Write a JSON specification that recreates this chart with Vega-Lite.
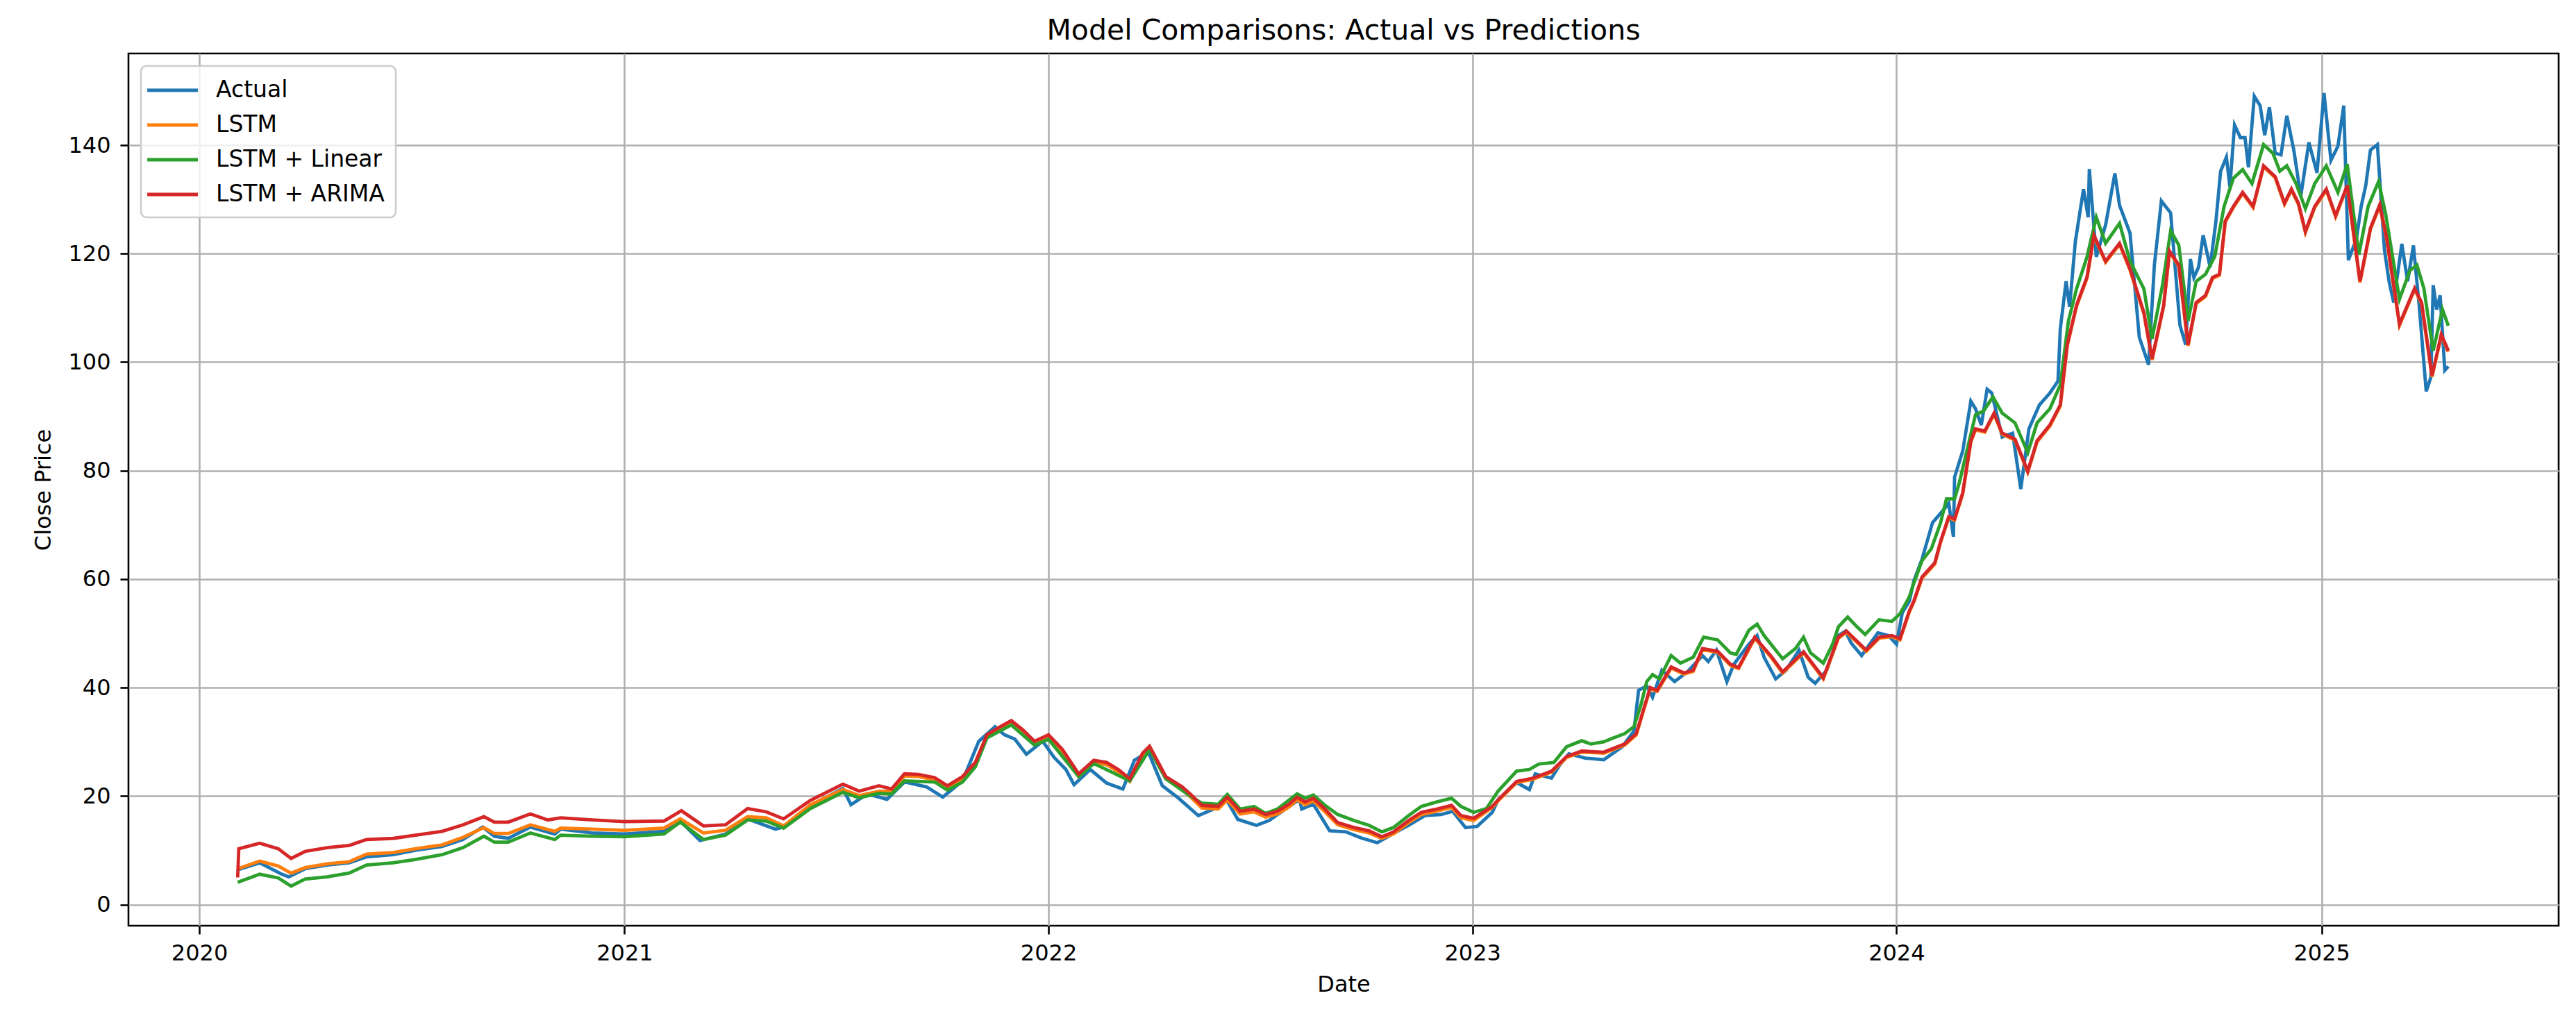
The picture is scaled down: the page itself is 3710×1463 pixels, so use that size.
{
  "$schema": "https://vega.github.io/schema/vega-lite/v6.json",
  "width": 3500,
  "height": 1256,
  "autosize": "none",
  "padding": {"left": 185, "top": 77, "right": 25, "bottom": 130},
  "background": "white",
  "title": {"text": "Model Comparisons: Actual vs Predictions", "fontSize": 41, "fontWeight": "normal", "font": "DejaVu Sans", "color": "black", "offset": 11, "anchor": "middle"},
  "config": {
    "font": "DejaVu Sans",
    "view": {"stroke": "black", "strokeWidth": 2.6},
    "axis": {
      "domain": false,
      "labelFont": "DejaVu Sans", "labelFontSize": 32, "labelColor": "black",
      "titleFont": "DejaVu Sans", "titleFontSize": 32, "titleFontWeight": "normal", "titleColor": "black",
      "tickColor": "black", "tickWidth": 2.6, "tickSize": 12,
      "gridColor": "#b0b0b0", "gridWidth": 2.6, "gridOpacity": 1,
      "labelPadding": 12
    },
    "legend": {
      "orient": "top-left", "offset": 18, "padding": 16,
      "fillColor": "rgba(255,255,255,0.8)", "strokeColor": "#cccccc", "strokeWidth": 2.6, "cornerRadius": 8,
      "symbolType": "M-1.57,0H2.85", "symbolSize": 1089, "symbolStrokeWidth": 4.8,
      "labelFont": "DejaVu Sans", "labelFontSize": 33, "labelColor": "black", "labelOffset": 54, "labelLimit": 2000,
      "rowPadding": 14, "titleFontSize": 0
    }
  },
  "datasets": {
    "actual": [
      {"date":"2020-02-03","close":6.4},{"date":"2020-02-22","close":7.7},{"date":"2020-03-12","close":5.6},{"date":"2020-03-18","close":5.1},
      {"date":"2020-04-01","close":6.6},{"date":"2020-04-20","close":7.3},{"date":"2020-05-09","close":7.7},{"date":"2020-05-24","close":8.8},
      {"date":"2020-06-16","close":9.2},{"date":"2020-07-05","close":10.0},{"date":"2020-07-28","close":10.7},{"date":"2020-08-15","close":12.0},
      {"date":"2020-09-01","close":14.3},{"date":"2020-09-11","close":12.6},{"date":"2020-09-23","close":12.2},{"date":"2020-10-12","close":14.3},
      {"date":"2020-11-02","close":13.0},{"date":"2020-11-07","close":13.9},{"date":"2020-12-04","close":13.2},{"date":"2021-01-01","close":13.0},
      {"date":"2021-02-04","close":13.5},{"date":"2021-02-18","close":15.4},{"date":"2021-03-07","close":11.8},{"date":"2021-03-29","close":13.0},
      {"date":"2021-04-17","close":15.8},{"date":"2021-05-11","close":13.9},{"date":"2021-05-18","close":14.3},{"date":"2021-06-10","close":18.2},
      {"date":"2021-07-08","close":21.4},{"date":"2021-07-15","close":18.4},{"date":"2021-07-29","close":20.4},{"date":"2021-08-15","close":19.4},
      {"date":"2021-08-30","close":22.6},{"date":"2021-09-18","close":21.7},{"date":"2021-10-02","close":19.8},{"date":"2021-10-19","close":22.8},
      {"date":"2021-11-02","close":30.1},{"date":"2021-11-16","close":32.8},{"date":"2021-11-24","close":31.3},{"date":"2021-12-03","close":30.5},
      {"date":"2021-12-13","close":27.7},{"date":"2021-12-27","close":30.1},{"date":"2022-01-06","close":27.1},{"date":"2022-01-16","close":24.9},
      {"date":"2022-01-23","close":22.1},{"date":"2022-02-06","close":24.9},{"date":"2022-02-20","close":22.4},{"date":"2022-03-06","close":21.3},
      {"date":"2022-03-16","close":26.6},{"date":"2022-03-28","close":28.1},{"date":"2022-04-09","close":21.9},{"date":"2022-04-23","close":19.6},
      {"date":"2022-05-10","close":16.4},{"date":"2022-05-23","close":17.6},{"date":"2022-06-03","close":19.4},{"date":"2022-06-13","close":15.7},
      {"date":"2022-06-29","close":14.6},{"date":"2022-07-10","close":15.5},{"date":"2022-07-24","close":17.6},{"date":"2022-08-05","close":19.4},
      {"date":"2022-08-07","close":17.6},{"date":"2022-08-17","close":18.5},{"date":"2022-08-31","close":13.6},{"date":"2022-09-14","close":13.4},
      {"date":"2022-09-27","close":12.3},{"date":"2022-10-11","close":11.4},{"date":"2022-10-25","close":13.1},{"date":"2022-11-07","close":14.6},
      {"date":"2022-11-21","close":16.4},{"date":"2022-12-05","close":16.6},{"date":"2022-12-15","close":17.2},{"date":"2022-12-26","close":14.2},
      {"date":"2023-01-05","close":14.4},{"date":"2023-01-18","close":17.0},{"date":"2023-01-23","close":19.3},{"date":"2023-02-08","close":22.5},
      {"date":"2023-02-19","close":21.2},{"date":"2023-02-24","close":24.1},{"date":"2023-03-10","close":23.3},{"date":"2023-03-17","close":25.7},
      {"date":"2023-03-25","close":27.8},{"date":"2023-04-08","close":27.0},{"date":"2023-04-24","close":26.7},{"date":"2023-05-10","close":29.1},
      {"date":"2023-05-20","close":32.0},{"date":"2023-05-24","close":39.5},{"date":"2023-05-31","close":40.3},{"date":"2023-06-05","close":38.2},
      {"date":"2023-06-13","close":43.2},{"date":"2023-06-24","close":41.1},{"date":"2023-07-05","close":42.9},{"date":"2023-07-18","close":45.9},
      {"date":"2023-07-23","close":44.8},{"date":"2023-07-30","close":46.9},{"date":"2023-08-08","close":41.1},{"date":"2023-08-14","close":44.3},
      {"date":"2023-08-27","close":48.0},{"date":"2023-09-03","close":49.6},{"date":"2023-09-09","close":45.6},{"date":"2023-09-19","close":41.6},
      {"date":"2023-09-28","close":43.2},{"date":"2023-10-09","close":46.9},{"date":"2023-10-17","close":41.9},{"date":"2023-10-23","close":40.8},
      {"date":"2023-11-02","close":43.2},{"date":"2023-11-12","close":49.6},{"date":"2023-11-18","close":50.4},{"date":"2023-11-23","close":48.2},
      {"date":"2023-12-02","close":45.9},{"date":"2023-12-16","close":50.1},{"date":"2023-12-25","close":49.6},{"date":"2024-01-01","close":48.0},
      {"date":"2024-01-06","close":53.8},{"date":"2024-01-12","close":55.9},{"date":"2024-01-16","close":59.7},{"date":"2024-01-23","close":63.7},
      {"date":"2024-02-01","close":70.4},{"date":"2024-02-11","close":72.9},{"date":"2024-02-15","close":74.0},{"date":"2024-02-19","close":67.8},
      {"date":"2024-02-20","close":78.8},{"date":"2024-02-27","close":83.6},{"date":"2024-03-05","close":92.8},{"date":"2024-03-09","close":91.4},
      {"date":"2024-03-14","close":88.4},{"date":"2024-03-19","close":95.0},{"date":"2024-03-23","close":94.3},{"date":"2024-04-01","close":86.2},
      {"date":"2024-04-10","close":86.9},{"date":"2024-04-17","close":76.6},{"date":"2024-04-24","close":87.7},{"date":"2024-05-03","close":92.1},
      {"date":"2024-05-12","close":94.3},{"date":"2024-05-19","close":96.5},{"date":"2024-05-21","close":106.1},{"date":"2024-05-26","close":114.9},
      {"date":"2024-05-29","close":110.2},{"date":"2024-06-03","close":122.3},{"date":"2024-06-10","close":131.9},{"date":"2024-06-14","close":126.7},
      {"date":"2024-06-15","close":135.6},{"date":"2024-06-21","close":119.4},{"date":"2024-06-29","close":125.3},{"date":"2024-07-07","close":134.8},
      {"date":"2024-07-11","close":128.9},{"date":"2024-07-20","close":123.8},{"date":"2024-07-28","close":104.6},{"date":"2024-08-05","close":99.5},
      {"date":"2024-08-10","close":117.9},{"date":"2024-08-16","close":129.7},{"date":"2024-08-24","close":127.5},{"date":"2024-09-01","close":106.8},
      {"date":"2024-09-06","close":103.2},{"date":"2024-09-10","close":119.0},{"date":"2024-09-13","close":115.6},{"date":"2024-09-17","close":117.5},
      {"date":"2024-09-21","close":123.4},{"date":"2024-09-27","close":117.5},{"date":"2024-10-02","close":126.0},{"date":"2024-10-06","close":135.2},
      {"date":"2024-10-11","close":137.8},{"date":"2024-10-14","close":132.3},{"date":"2024-10-18","close":143.7},{"date":"2024-10-23","close":141.4},
      {"date":"2024-10-27","close":141.4},{"date":"2024-10-30","close":135.9},{"date":"2024-11-04","close":149.0},{"date":"2024-11-09","close":147.3},
      {"date":"2024-11-13","close":141.8},{"date":"2024-11-17","close":147.0},{"date":"2024-11-22","close":138.5},{"date":"2024-11-27","close":138.2},
      {"date":"2024-12-02","close":145.4},{"date":"2024-12-08","close":139.1},{"date":"2024-12-14","close":130.6},{"date":"2024-12-21","close":140.5},
      {"date":"2024-12-28","close":134.9},{"date":"2025-01-03","close":149.6},{"date":"2025-01-09","close":137.2},{"date":"2025-01-15","close":139.8},
      {"date":"2025-01-20","close":147.3},{"date":"2025-01-24","close":118.8},{"date":"2025-01-31","close":122.8},{"date":"2025-02-04","close":128.7},
      {"date":"2025-02-08","close":132.6},{"date":"2025-02-12","close":139.1},{"date":"2025-02-18","close":140.1},{"date":"2025-02-24","close":120.8},
      {"date":"2025-02-28","close":114.9},{"date":"2025-03-04","close":111.0},{"date":"2025-03-11","close":121.8},{"date":"2025-03-16","close":114.9},
      {"date":"2025-03-21","close":121.5},{"date":"2025-03-26","close":110.3},{"date":"2025-04-01","close":94.6},{"date":"2025-04-05","close":97.2},
      {"date":"2025-04-07","close":114.2},{"date":"2025-04-10","close":109.7},{"date":"2025-04-13","close":112.3},{"date":"2025-04-17","close":98.5},
      {"date":"2025-04-20","close":99.2}
    ],
    "lstm": [
      {"date":"2020-02-03","close":6.6},{"date":"2020-02-22","close":8.0},{"date":"2020-03-09","close":7.1},{"date":"2020-03-20","close":5.8},
      {"date":"2020-04-01","close":6.8},{"date":"2020-04-20","close":7.5},{"date":"2020-05-09","close":7.9},{"date":"2020-05-24","close":9.3},
      {"date":"2020-06-16","close":9.6},{"date":"2020-07-05","close":10.3},{"date":"2020-07-28","close":11.0},{"date":"2020-08-15","close":12.4},
      {"date":"2020-09-02","close":14.2},{"date":"2020-09-11","close":13.1},{"date":"2020-09-23","close":13.1},{"date":"2020-10-12","close":14.7},
      {"date":"2020-11-02","close":13.5},{"date":"2020-11-07","close":14.1},{"date":"2020-12-04","close":13.9},{"date":"2021-01-01","close":13.7},
      {"date":"2021-02-04","close":14.1},{"date":"2021-02-18","close":15.8},{"date":"2021-03-10","close":13.2},{"date":"2021-03-29","close":13.7},
      {"date":"2021-04-17","close":16.2},{"date":"2021-05-03","close":16.0},{"date":"2021-05-18","close":14.5},{"date":"2021-06-10","close":18.4},
      {"date":"2021-07-08","close":21.2},{"date":"2021-07-22","close":20.1},{"date":"2021-08-08","close":20.9},{"date":"2021-08-19","close":20.9},
      {"date":"2021-08-30","close":23.7},{"date":"2021-09-11","close":23.6},{"date":"2021-09-25","close":23.0},{"date":"2021-10-06","close":21.5},
      {"date":"2021-10-19","close":23.2},{"date":"2021-10-30","close":25.8},{"date":"2021-11-09","close":30.9},{"date":"2021-11-19","close":32.2},
      {"date":"2021-11-30","close":33.5},{"date":"2021-12-10","close":31.8},{"date":"2021-12-20","close":29.7},{"date":"2022-01-01","close":30.9},
      {"date":"2022-01-13","close":28.2},{"date":"2022-01-27","close":23.6},{"date":"2022-02-09","close":26.2},{"date":"2022-02-20","close":25.8},
      {"date":"2022-03-02","close":24.5},{"date":"2022-03-12","close":22.7},{"date":"2022-03-23","close":27.5},{"date":"2022-03-29","close":28.8},
      {"date":"2022-04-12","close":23.2},{"date":"2022-04-26","close":21.2},{"date":"2022-05-03","close":19.9},{"date":"2022-05-13","close":17.8},
      {"date":"2022-05-27","close":17.6},{"date":"2022-06-04","close":19.3},{"date":"2022-06-15","close":16.7},{"date":"2022-06-27","close":17.1},
      {"date":"2022-07-07","close":16.1},{"date":"2022-07-17","close":16.7},{"date":"2022-07-27","close":18.0},{"date":"2022-08-03","close":19.3},
      {"date":"2022-08-10","close":18.4},{"date":"2022-08-17","close":19.1},{"date":"2022-08-27","close":17.1},{"date":"2022-09-07","close":14.7},
      {"date":"2022-09-21","close":13.8},{"date":"2022-10-04","close":13.2},{"date":"2022-10-15","close":12.2},{"date":"2022-10-25","close":13.0},
      {"date":"2022-11-07","close":15.1},{"date":"2022-11-18","close":16.6},{"date":"2022-12-01","close":17.2},{"date":"2022-12-14","close":17.9},
      {"date":"2022-12-22","close":16.0},{"date":"2023-01-02","close":15.5},{"date":"2023-01-18","close":17.9},{"date":"2023-01-23","close":19.1},
      {"date":"2023-02-08","close":22.5},{"date":"2023-02-22","close":23.1},{"date":"2023-03-10","close":24.4},{"date":"2023-03-23","close":27.1},
      {"date":"2023-04-05","close":28.1},{"date":"2023-04-24","close":27.9},{"date":"2023-05-12","close":29.4},{"date":"2023-05-22","close":31.3},
      {"date":"2023-05-28","close":35.6},{"date":"2023-06-03","close":39.8},{"date":"2023-06-09","close":39.3},{"date":"2023-06-21","close":43.6},
      {"date":"2023-07-02","close":42.5},{"date":"2023-07-10","close":43.0},{"date":"2023-07-18","close":47.0},{"date":"2023-07-31","close":46.5},
      {"date":"2023-08-11","close":44.1},{"date":"2023-08-18","close":43.5},{"date":"2023-09-01","close":49.1},{"date":"2023-09-15","close":45.6},
      {"date":"2023-09-25","close":42.7},{"date":"2023-10-13","close":46.4},{"date":"2023-10-30","close":41.6},{"date":"2023-11-12","close":49.1},
      {"date":"2023-11-19","close":50.2},{"date":"2023-12-06","close":46.7},{"date":"2023-12-17","close":49.1},{"date":"2023-12-28","close":49.4},
      {"date":"2024-01-04","close":48.8},{"date":"2024-01-12","close":53.9},{"date":"2024-01-16","close":55.8},{"date":"2024-01-23","close":60.2},
      {"date":"2024-02-03","close":62.8},{"date":"2024-02-08","close":66.8},{"date":"2024-02-15","close":71.3},{"date":"2024-02-20","close":70.9},
      {"date":"2024-02-27","close":75.7},{"date":"2024-03-05","close":85.3},{"date":"2024-03-09","close":87.5},{"date":"2024-03-17","close":87.1},
      {"date":"2024-03-25","close":90.4},{"date":"2024-04-01","close":86.7},{"date":"2024-04-12","close":85.6},{"date":"2024-04-23","close":79.7},
      {"date":"2024-05-01","close":85.3},{"date":"2024-05-12","close":88.2},{"date":"2024-05-21","close":91.9},{"date":"2024-05-27","close":103.0},
      {"date":"2024-06-04","close":110.3},{"date":"2024-06-13","close":115.5},{"date":"2024-06-19","close":123.2},{"date":"2024-06-29","close":118.4},
      {"date":"2024-07-11","close":121.7},{"date":"2024-07-20","close":117.0},{"date":"2024-08-01","close":108.9},{"date":"2024-08-08","close":100.4},
      {"date":"2024-08-18","close":110.3},{"date":"2024-08-23","close":120.3},{"date":"2024-08-31","close":117.7},{"date":"2024-09-08","close":103.0},
      {"date":"2024-09-15","close":110.8},{"date":"2024-09-23","close":112.1},{"date":"2024-09-29","close":115.4},{"date":"2024-10-05","close":116.0},
      {"date":"2024-10-10","close":125.8},{"date":"2024-10-17","close":128.5},{"date":"2024-10-25","close":131.1},{"date":"2024-11-03","close":128.5},
      {"date":"2024-11-12","close":136.0},{"date":"2024-11-22","close":134.0},{"date":"2024-11-30","close":129.1},{"date":"2024-12-06","close":131.7},
      {"date":"2024-12-12","close":129.1},{"date":"2024-12-18","close":123.9},{"date":"2024-12-26","close":128.5},{"date":"2025-01-05","close":131.7},
      {"date":"2025-01-13","close":126.8},{"date":"2025-01-23","close":132.4},{"date":"2025-02-03","close":114.7},{"date":"2025-02-12","close":124.5},
      {"date":"2025-02-20","close":128.8},{"date":"2025-02-26","close":122.6},{"date":"2025-03-09","close":106.8},{"date":"2025-03-22","close":113.4},
      {"date":"2025-03-28","close":110.8},{"date":"2025-04-06","close":97.3},{"date":"2025-04-14","close":104.9},{"date":"2025-04-20","close":101.9}
    ],
    "lstm_linear": [
      {"date":"2020-02-03","close":4.1},{"date":"2020-02-22","close":5.6},{"date":"2020-03-09","close":4.9},{"date":"2020-03-20","close":3.4},
      {"date":"2020-04-01","close":4.7},{"date":"2020-04-20","close":5.1},{"date":"2020-05-09","close":5.8},{"date":"2020-05-24","close":7.3},
      {"date":"2020-06-16","close":7.7},{"date":"2020-07-05","close":8.3},{"date":"2020-07-28","close":9.2},{"date":"2020-08-15","close":10.5},
      {"date":"2020-09-02","close":12.6},{"date":"2020-09-11","close":11.5},{"date":"2020-09-23","close":11.5},{"date":"2020-10-12","close":13.2},
      {"date":"2020-11-02","close":12.0},{"date":"2020-11-07","close":12.8},{"date":"2020-12-04","close":12.6},{"date":"2021-01-01","close":12.5},
      {"date":"2021-02-04","close":13.0},{"date":"2021-02-18","close":15.2},{"date":"2021-03-10","close":12.0},{"date":"2021-03-29","close":12.8},
      {"date":"2021-04-17","close":15.6},{"date":"2021-05-03","close":15.4},{"date":"2021-05-18","close":14.1},{"date":"2021-06-10","close":17.7},
      {"date":"2021-07-08","close":20.7},{"date":"2021-07-22","close":19.7},{"date":"2021-08-08","close":20.5},{"date":"2021-08-19","close":20.4},
      {"date":"2021-08-30","close":22.8},{"date":"2021-09-25","close":22.6},{"date":"2021-10-06","close":21.1},{"date":"2021-10-19","close":22.6},
      {"date":"2021-10-30","close":25.4},{"date":"2021-11-09","close":30.7},{"date":"2021-11-30","close":33.1},{"date":"2021-12-20","close":29.4},
      {"date":"2022-01-01","close":30.5},{"date":"2022-01-27","close":23.6},{"date":"2022-02-09","close":26.0},{"date":"2022-03-12","close":22.8},
      {"date":"2022-03-29","close":28.6},{"date":"2022-04-12","close":23.2},{"date":"2022-05-03","close":20.0},{"date":"2022-05-13","close":18.7},
      {"date":"2022-05-27","close":18.5},{"date":"2022-06-04","close":20.3},{"date":"2022-06-15","close":17.6},{"date":"2022-06-27","close":18.1},
      {"date":"2022-07-07","close":16.8},{"date":"2022-07-17","close":17.6},{"date":"2022-08-03","close":20.4},{"date":"2022-08-10","close":19.6},
      {"date":"2022-08-17","close":20.2},{"date":"2022-08-27","close":18.3},{"date":"2022-09-07","close":16.6},{"date":"2022-09-21","close":15.5},
      {"date":"2022-10-04","close":14.6},{"date":"2022-10-15","close":13.4},{"date":"2022-10-25","close":14.2},{"date":"2022-11-07","close":16.4},
      {"date":"2022-11-18","close":18.1},{"date":"2022-12-01","close":18.9},{"date":"2022-12-14","close":19.6},{"date":"2022-12-22","close":18.1},
      {"date":"2023-01-02","close":17.0},{"date":"2023-01-13","close":17.7},{"date":"2023-01-23","close":20.9},{"date":"2023-02-08","close":24.6},
      {"date":"2023-02-19","close":24.9},{"date":"2023-02-27","close":25.9},{"date":"2023-03-12","close":26.2},{"date":"2023-03-23","close":29.1},
      {"date":"2023-04-05","close":30.2},{"date":"2023-04-13","close":29.6},{"date":"2023-04-24","close":30.0},{"date":"2023-05-02","close":30.7},
      {"date":"2023-05-12","close":31.5},{"date":"2023-05-20","close":32.8},{"date":"2023-05-26","close":36.8},{"date":"2023-05-31","close":41.1},
      {"date":"2023-06-05","close":42.4},{"date":"2023-06-11","close":41.6},{"date":"2023-06-21","close":45.9},{"date":"2023-06-29","close":44.5},
      {"date":"2023-07-10","close":45.6},{"date":"2023-07-19","close":49.3},{"date":"2023-07-31","close":48.8},{"date":"2023-08-11","close":46.4},
      {"date":"2023-08-16","close":46.1},{"date":"2023-08-27","close":50.6},{"date":"2023-09-03","close":51.7},{"date":"2023-09-09","close":49.6},
      {"date":"2023-09-25","close":45.3},{"date":"2023-10-06","close":47.2},{"date":"2023-10-13","close":49.3},{"date":"2023-10-19","close":46.4},
      {"date":"2023-10-30","close":44.5},{"date":"2023-11-07","close":48.0},{"date":"2023-11-12","close":51.2},{"date":"2023-11-20","close":53.0},
      {"date":"2023-11-28","close":51.2},{"date":"2023-12-05","close":49.8},{"date":"2023-12-17","close":52.5},{"date":"2023-12-28","close":52.2},
      {"date":"2024-01-04","close":53.6},{"date":"2024-01-12","close":56.7},{"date":"2024-01-16","close":59.3},{"date":"2024-01-23","close":63.4},
      {"date":"2024-01-31","close":65.6},{"date":"2024-02-08","close":70.4},{"date":"2024-02-13","close":74.8},{"date":"2024-02-20","close":74.8},
      {"date":"2024-02-24","close":77.7},{"date":"2024-03-02","close":84.0},{"date":"2024-03-09","close":90.3},{"date":"2024-03-16","close":91.0},
      {"date":"2024-03-24","close":93.6},{"date":"2024-04-01","close":90.6},{"date":"2024-04-12","close":88.8},{"date":"2024-04-23","close":83.3},
      {"date":"2024-05-01","close":88.8},{"date":"2024-05-12","close":91.4},{"date":"2024-05-21","close":95.8},{"date":"2024-05-28","close":107.6},
      {"date":"2024-06-04","close":113.5},{"date":"2024-06-13","close":119.4},{"date":"2024-06-21","close":126.7},{"date":"2024-06-29","close":121.9},
      {"date":"2024-07-11","close":125.6},{"date":"2024-07-20","close":118.6},{"date":"2024-08-01","close":113.5},{"date":"2024-08-08","close":104.3},
      {"date":"2024-08-17","close":114.2},{"date":"2024-08-24","close":124.2},{"date":"2024-08-31","close":121.6},{"date":"2024-09-08","close":107.6},
      {"date":"2024-09-15","close":114.9},{"date":"2024-09-23","close":116.2},{"date":"2024-10-01","close":119.5},{"date":"2024-10-09","close":128.7},
      {"date":"2024-10-17","close":133.9},{"date":"2024-10-25","close":135.5},{"date":"2024-11-02","close":132.9},{"date":"2024-11-12","close":140.1},
      {"date":"2024-11-20","close":138.5},{"date":"2024-11-26","close":135.2},{"date":"2024-12-02","close":136.2},{"date":"2024-12-10","close":132.9},
      {"date":"2024-12-18","close":128.3},{"date":"2024-12-26","close":132.9},{"date":"2025-01-05","close":136.2},{"date":"2025-01-15","close":131.3},
      {"date":"2025-01-23","close":136.5},{"date":"2025-02-02","close":119.8},{"date":"2025-02-10","close":128.7},{"date":"2025-02-19","close":133.3},
      {"date":"2025-02-25","close":127.4},{"date":"2025-03-09","close":111.6},{"date":"2025-03-18","close":116.9},{"date":"2025-03-24","close":117.9},
      {"date":"2025-03-30","close":113.6},{"date":"2025-04-07","close":102.1},{"date":"2025-04-15","close":109.7},{"date":"2025-04-20","close":106.7}
    ],
    "lstm_arima": [
      {"date":"2020-02-03","close":5.0},{"date":"2020-02-04","close":10.3},{"date":"2020-02-22","close":11.3},{"date":"2020-03-09","close":10.3},
      {"date":"2020-03-20","close":8.5},{"date":"2020-04-01","close":9.8},{"date":"2020-04-20","close":10.5},{"date":"2020-05-09","close":10.9},
      {"date":"2020-05-24","close":12.0},{"date":"2020-06-16","close":12.2},{"date":"2020-07-05","close":12.8},{"date":"2020-07-28","close":13.5},
      {"date":"2020-08-15","close":14.7},{"date":"2020-09-02","close":16.2},{"date":"2020-09-11","close":15.2},{"date":"2020-09-23","close":15.2},
      {"date":"2020-10-12","close":16.7},{"date":"2020-10-27","close":15.6},{"date":"2020-11-07","close":16.0},{"date":"2020-12-04","close":15.6},
      {"date":"2021-01-01","close":15.3},{"date":"2021-02-04","close":15.4},{"date":"2021-02-19","close":17.3},{"date":"2021-03-10","close":14.5},
      {"date":"2021-03-29","close":14.7},{"date":"2021-04-17","close":17.7},{"date":"2021-05-03","close":17.1},{"date":"2021-05-18","close":15.8},
      {"date":"2021-06-10","close":19.2},{"date":"2021-07-08","close":22.2},{"date":"2021-07-22","close":20.9},{"date":"2021-08-08","close":21.9},
      {"date":"2021-08-19","close":21.3},{"date":"2021-08-30","close":24.1},{"date":"2021-09-11","close":24.0},{"date":"2021-09-25","close":23.4},
      {"date":"2021-10-06","close":21.9},{"date":"2021-10-19","close":23.6},{"date":"2021-10-30","close":26.2},{"date":"2021-11-09","close":31.3},
      {"date":"2021-11-19","close":32.6},{"date":"2021-11-30","close":33.9},{"date":"2021-12-10","close":32.2},{"date":"2021-12-20","close":30.1},
      {"date":"2022-01-01","close":31.3},{"date":"2022-01-13","close":28.6},{"date":"2022-01-27","close":24.1},{"date":"2022-02-09","close":26.6},
      {"date":"2022-02-20","close":26.2},{"date":"2022-03-02","close":24.9},{"date":"2022-03-12","close":23.2},{"date":"2022-03-23","close":27.9},
      {"date":"2022-03-29","close":29.2},{"date":"2022-04-12","close":23.6},{"date":"2022-04-26","close":21.7},{"date":"2022-05-03","close":20.4},
      {"date":"2022-05-13","close":18.3},{"date":"2022-05-27","close":18.1},{"date":"2022-06-04","close":19.8},{"date":"2022-06-15","close":17.2},
      {"date":"2022-06-27","close":17.6},{"date":"2022-07-07","close":16.6},{"date":"2022-07-17","close":17.2},{"date":"2022-07-27","close":18.5},
      {"date":"2022-08-03","close":19.8},{"date":"2022-08-10","close":18.9},{"date":"2022-08-17","close":19.6},{"date":"2022-08-27","close":17.6},
      {"date":"2022-09-07","close":15.1},{"date":"2022-09-21","close":14.2},{"date":"2022-10-04","close":13.6},{"date":"2022-10-15","close":12.5},
      {"date":"2022-10-25","close":13.4},{"date":"2022-11-07","close":15.5},{"date":"2022-11-18","close":17.0},{"date":"2022-12-01","close":17.6},
      {"date":"2022-12-14","close":18.3},{"date":"2022-12-22","close":16.4},{"date":"2023-01-02","close":15.9},{"date":"2023-01-18","close":18.1},
      {"date":"2023-01-23","close":19.3},{"date":"2023-02-08","close":22.7},{"date":"2023-02-22","close":23.3},{"date":"2023-03-10","close":24.6},
      {"date":"2023-03-23","close":27.3},{"date":"2023-04-05","close":28.3},{"date":"2023-04-24","close":28.1},{"date":"2023-05-12","close":29.6},
      {"date":"2023-05-22","close":31.5},{"date":"2023-05-28","close":35.8},{"date":"2023-06-03","close":40.0},{"date":"2023-06-09","close":39.5},
      {"date":"2023-06-21","close":43.8},{"date":"2023-07-02","close":42.7},{"date":"2023-07-10","close":43.2},{"date":"2023-07-18","close":47.2},
      {"date":"2023-07-31","close":46.7},{"date":"2023-08-11","close":44.3},{"date":"2023-08-18","close":43.7},{"date":"2023-09-01","close":49.3},
      {"date":"2023-09-15","close":45.8},{"date":"2023-09-25","close":42.9},{"date":"2023-10-13","close":46.6},{"date":"2023-10-30","close":41.8},
      {"date":"2023-11-12","close":49.3},{"date":"2023-11-19","close":50.4},{"date":"2023-12-06","close":46.9},{"date":"2023-12-17","close":49.3},
      {"date":"2023-12-28","close":49.6},{"date":"2024-01-04","close":49.0},{"date":"2024-01-12","close":54.1},{"date":"2024-01-16","close":56.0},
      {"date":"2024-01-23","close":60.4},{"date":"2024-02-03","close":63.0},{"date":"2024-02-08","close":67.0},{"date":"2024-02-15","close":71.5},
      {"date":"2024-02-20","close":71.1},{"date":"2024-02-27","close":75.9},{"date":"2024-03-05","close":85.5},{"date":"2024-03-09","close":87.7},
      {"date":"2024-03-17","close":87.3},{"date":"2024-03-25","close":90.6},{"date":"2024-04-01","close":86.9},{"date":"2024-04-12","close":85.8},
      {"date":"2024-04-23","close":79.9},{"date":"2024-05-01","close":85.5},{"date":"2024-05-12","close":88.4},{"date":"2024-05-21","close":92.1},
      {"date":"2024-05-27","close":103.2},{"date":"2024-06-04","close":110.5},{"date":"2024-06-13","close":115.7},{"date":"2024-06-19","close":123.4},
      {"date":"2024-06-29","close":118.6},{"date":"2024-07-11","close":121.9},{"date":"2024-07-20","close":117.2},{"date":"2024-08-01","close":109.1},
      {"date":"2024-08-08","close":100.6},{"date":"2024-08-18","close":110.5},{"date":"2024-08-23","close":120.5},{"date":"2024-08-31","close":117.9},
      {"date":"2024-09-08","close":103.2},{"date":"2024-09-15","close":111.0},{"date":"2024-09-23","close":112.3},{"date":"2024-09-29","close":115.6},
      {"date":"2024-10-05","close":116.2},{"date":"2024-10-10","close":126.0},{"date":"2024-10-17","close":128.7},{"date":"2024-10-25","close":131.3},
      {"date":"2024-11-03","close":128.7},{"date":"2024-11-12","close":136.2},{"date":"2024-11-22","close":134.2},{"date":"2024-11-30","close":129.3},
      {"date":"2024-12-06","close":131.9},{"date":"2024-12-12","close":129.3},{"date":"2024-12-18","close":124.1},{"date":"2024-12-26","close":128.7},
      {"date":"2025-01-05","close":131.9},{"date":"2025-01-13","close":127.0},{"date":"2025-01-23","close":132.6},{"date":"2025-02-03","close":114.9},
      {"date":"2025-02-12","close":124.7},{"date":"2025-02-20","close":129.0},{"date":"2025-02-26","close":122.8},{"date":"2025-03-09","close":107.0},
      {"date":"2025-03-22","close":113.6},{"date":"2025-03-28","close":111.0},{"date":"2025-04-06","close":97.5},{"date":"2025-04-14","close":105.1},
      {"date":"2025-04-20","close":102.1}
    ]
  },
  "encoding": {
    "x": {
      "field": "date", "type": "temporal", "title": "Date",
      "scale": {"type": "utc", "domain": [{"year": 2019, "month": 11, "date": 1, "utc": true}, {"year": 2025, "month": 7, "date": 24, "utc": true}]},
      "axis": {
        "values": [
          {"year": 2020, "month": 1, "date": 1, "utc": true},
          {"year": 2021, "month": 1, "date": 1, "utc": true},
          {"year": 2022, "month": 1, "date": 1, "utc": true},
          {"year": 2023, "month": 1, "date": 1, "utc": true},
          {"year": 2024, "month": 1, "date": 1, "utc": true},
          {"year": 2025, "month": 1, "date": 1, "utc": true}
        ],
        "format": "%Y", "formatType": "utc", "labelAngle": 0, "titlePadding": 14
      }
    },
    "y": {
      "field": "close", "type": "quantitative", "title": "Close Price",
      "scale": {"domain": [-3.9, 156.9], "nice": false, "zero": false},
      "axis": {"values": [0, 20, 40, 60, 80, 100, 120, 140], "titlePadding": 18, "labelPadding": 14}
    },
    "color": {
      "type": "nominal",
      "scale": {"domain": ["Actual", "LSTM", "LSTM + Linear", "LSTM + ARIMA"], "range": ["#1f77b4", "#ff7f0e", "#2ca02c", "#d62728"]},
      "legend": {"title": null}
    }
  },
  "layer": [
    {"data": {"name": "actual"}, "mark": {"type": "line", "strokeWidth": 4.8, "interpolate": "linear"}, "encoding": {"color": {"datum": "Actual", "type": "nominal"}}},
    {"data": {"name": "lstm"}, "mark": {"type": "line", "strokeWidth": 4.8, "interpolate": "linear"}, "encoding": {"color": {"datum": "LSTM", "type": "nominal"}}},
    {"data": {"name": "lstm_linear"}, "mark": {"type": "line", "strokeWidth": 4.8, "interpolate": "linear"}, "encoding": {"color": {"datum": "LSTM + Linear", "type": "nominal"}}},
    {"data": {"name": "lstm_arima"}, "mark": {"type": "line", "strokeWidth": 4.8, "interpolate": "linear"}, "encoding": {"color": {"datum": "LSTM + ARIMA", "type": "nominal"}}}
  ]
}
